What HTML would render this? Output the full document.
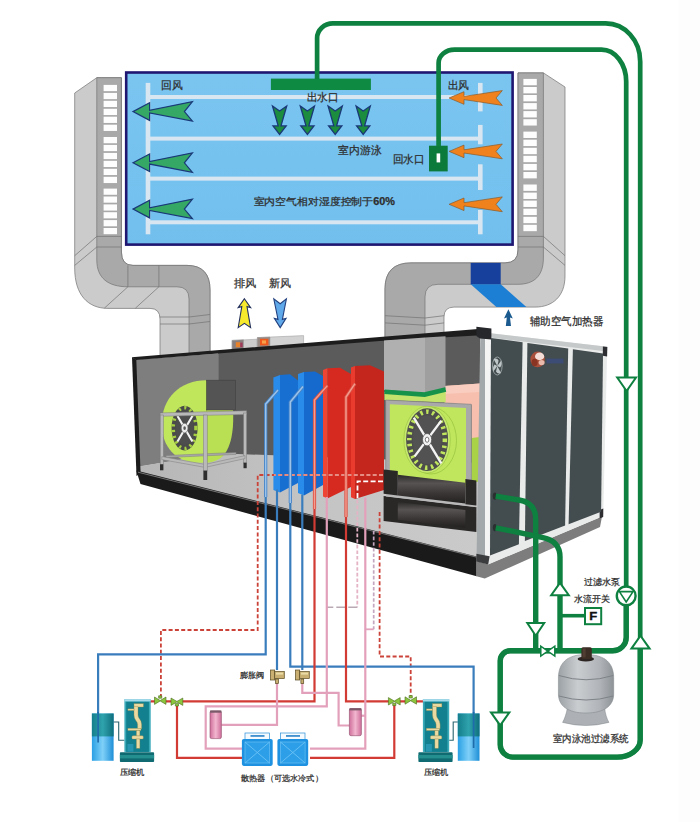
<!DOCTYPE html>
<html lang="zh">
<head>
<meta charset="utf-8">
<title>室内泳池除湿热泵系统</title>
<style>
html,body{margin:0;padding:0;background:#fff;}
body{width:700px;height:822px;overflow:hidden;font-family:"Liberation Sans",sans-serif;}
svg{display:block;}
text{font-family:"Liberation Sans",sans-serif;fill:#2e2e2e;stroke:#2e2e2e;stroke-width:0.25px;}
</style>
</head>
<body>
<svg width="700" height="822" viewBox="0 0 700 822">
<defs>
  <linearGradient id="poolg" x1="0" y1="0" x2="0" y2="1">
    <stop offset="0" stop-color="#7ac5f0"/>
    <stop offset="0.5" stop-color="#76c2ef"/>
    <stop offset="1" stop-color="#72bfee"/>
  </linearGradient>
  <linearGradient id="tankg" x1="0" y1="0" x2="1" y2="0">
    <stop offset="0" stop-color="#9da2a6"/>
    <stop offset="0.35" stop-color="#c9cdd0"/>
    <stop offset="0.75" stop-color="#b0b4b8"/>
    <stop offset="1" stop-color="#8e9398"/>
  </linearGradient>
  <linearGradient id="cylg" x1="0" y1="0" x2="0" y2="1">
    <stop offset="0" stop-color="#2c2929"/>
    <stop offset="0.3" stop-color="#575353"/>
    <stop offset="0.65" stop-color="#3a3636"/>
    <stop offset="1" stop-color="#232020"/>
  </linearGradient>
  <linearGradient id="pinkg" x1="0" y1="0" x2="1" y2="0">
    <stop offset="0" stop-color="#d0709c"/>
    <stop offset="0.5" stop-color="#f2b6cf"/>
    <stop offset="1" stop-color="#cf6f9b"/>
  </linearGradient>
  <linearGradient id="tkg" x1="0" y1="0" x2="1" y2="0">
    <stop offset="0" stop-color="#2aa0e4"/>
    <stop offset="0.5" stop-color="#7fd0f8"/>
    <stop offset="1" stop-color="#1e8fd6"/>
  </linearGradient>
  <linearGradient id="tkg2" x1="0" y1="0" x2="1" y2="0">
    <stop offset="0" stop-color="#147f8c"/>
    <stop offset="0.5" stop-color="#2fa3ad"/>
    <stop offset="1" stop-color="#0f6f7c"/>
  </linearGradient>
  <linearGradient id="floorg" x1="0" y1="0" x2="1" y2="0">
    <stop offset="0" stop-color="#b6b6b6"/>
    <stop offset="0.5" stop-color="#c4c4c4"/>
    <stop offset="1" stop-color="#cacaca"/>
  </linearGradient>
</defs>

<rect x="0" y="0" width="700" height="822" fill="#ffffff"/>
<rect x="678.6" y="0" width="21.4" height="822" fill="#fdfdfd"/>

<!-- ============ UNIT INTERIOR (walls) ============ -->
<g id="unitInterior">
  <!-- back wall -->
  <path d="M218 352 L480 331 L480 480 L218 456 Z" fill="#5b5b5b"/>
  <!-- left wall -->
  <path d="M135.5 359.5 L218.6 353.5 L218.6 453.5 L138.5 466.8 Z" fill="#7e7e7e"/>
  <!-- floor -->
  <path d="M138.3 466.5 L218.6 453.3 L480 463 L480 558.3 L138.5 472.6 Z" fill="url(#floorg)"/>
</g>

<!-- ============ LEFT DUCT ============ -->
<g id="ductL" stroke="#727272" stroke-width="0.7" stroke-linejoin="round">
  <path d="M96.8 77.7 L74.7 93 L74.7 268 C74.7 295 88 308.4 108 308.4 L150 308.4 Q160 308.4 160 319 L160 356 L210 352 L210 290 Q210 265.4 187 265.4 L133 265.4 Q121.4 265.4 121.4 252 L121.4 77.7 Z" fill="#cbcbcb"/>
  <path d="M96.8 77.7 L121.4 77.7 L121.4 252 Q121.4 265.4 133 265.4 L187 265.4 Q210 265.4 210 290 L210 352 L189 353.7 L189 299 Q189 286.8 177 286.8 L128 286.8 C108 286.8 96.8 278 96.8 260 Z" fill="#a9a9a9"/>
  <!-- seams -->
  <path d="M74.7 255.7 L96.8 236.4 L121.4 236.4 M74.7 265.4 L96.8 247 L121.4 247" fill="none"/>
  <path d="M127.9 265.4 L127.9 286.8 L104.3 308.2 M158.9 265.4 L158.9 286.8 L135.4 308.2" fill="none"/>
  <path d="M160 317 L189 317 L210 314.5 M160 324 L189 324 L210 321.5" fill="none"/>
</g>
<g id="grillL" fill="#fdfdfd">
  <rect x="103.6" y="84.9" width="13.4" height="6.25"/>
  <rect x="103.6" y="92.9" width="13.4" height="6.25"/>
  <rect x="103.6" y="100.8" width="13.4" height="6.25"/>
  <rect x="103.6" y="108.8" width="13.4" height="6.25"/>
  <rect x="103.6" y="116.7" width="13.4" height="6.25"/>
  <rect x="103.6" y="124.7" width="13.4" height="6.25"/>
  <rect x="103.6" y="137.0" width="13.4" height="6.25"/>
  <rect x="103.6" y="144.9" width="13.4" height="6.25"/>
  <rect x="103.6" y="152.9" width="13.4" height="6.25"/>
  <rect x="103.6" y="160.8" width="13.4" height="6.25"/>
  <rect x="103.6" y="168.8" width="13.4" height="6.25"/>
  <rect x="103.6" y="176.8" width="13.4" height="6.25"/>
  <rect x="103.6" y="188.6" width="13.4" height="6.18"/>
  <rect x="103.6" y="196.5" width="13.4" height="6.18"/>
  <rect x="103.6" y="204.4" width="13.4" height="6.18"/>
  <rect x="103.6" y="212.2" width="13.4" height="6.18"/>
  <rect x="103.6" y="220.1" width="13.4" height="6.18"/>
  <rect x="103.6" y="228.0" width="13.4" height="6.18"/>
</g>

<!-- ============ RIGHT DUCT ============ -->
<g id="ductR" stroke="#727272" stroke-width="0.7" stroke-linejoin="round">
  <path d="M518 72.9 L518 250 Q518 262.9 505 262.9 L411 262.9 Q385 262.9 385 289 L385 390 L444 390 L444 317 Q444 307.1 454 307.1 L535 307.1 C553 307.1 565 296 565 276 L565 87 L543.4 72.9 Z" fill="#cbcbcb"/>
  <path d="M518 72.9 L543.4 72.9 L543.4 258 C543.4 276 534 284.3 518 284.3 L438 284.3 Q425 284.3 425 297 L425 391 L385 388 L385 289 Q385 262.9 411 262.9 L505 262.9 Q518 262.9 518 250 Z" fill="#a9a9a9"/>
  <path d="M518 236.4 L543.4 236.4 L565 255.7 M518 247 L543.4 247 L565 265.4" fill="none"/>
  <path d="M385 315.7 L425 318 L444 315.7 M385 322.9 L425 325.2 L444 322.9" fill="none"/>
</g>
<g id="grillR" fill="#fdfdfd">
  <rect x="523.4" y="78.9" width="13.4" height="6.35"/>
  <rect x="523.4" y="87.0" width="13.4" height="6.35"/>
  <rect x="523.4" y="95.0" width="13.4" height="6.35"/>
  <rect x="523.4" y="103.1" width="13.4" height="6.35"/>
  <rect x="523.4" y="111.1" width="13.4" height="6.35"/>
  <rect x="523.4" y="119.2" width="13.4" height="6.35"/>
  <rect x="523.4" y="131.6" width="13.4" height="6.38"/>
  <rect x="523.4" y="139.7" width="13.4" height="6.38"/>
  <rect x="523.4" y="147.8" width="13.4" height="6.38"/>
  <rect x="523.4" y="155.8" width="13.4" height="6.38"/>
  <rect x="523.4" y="163.9" width="13.4" height="6.38"/>
  <rect x="523.4" y="172.0" width="13.4" height="6.38"/>
  <rect x="523.4" y="184.5" width="13.4" height="6.37"/>
  <rect x="523.4" y="192.6" width="13.4" height="6.37"/>
  <rect x="523.4" y="200.6" width="13.4" height="6.37"/>
  <rect x="523.4" y="208.7" width="13.4" height="6.37"/>
  <rect x="523.4" y="216.8" width="13.4" height="6.37"/>
  <rect x="523.4" y="224.8" width="13.4" height="6.37"/>
</g>
<!-- aux heater -->
<rect x="470.7" y="262.9" width="30" height="21.6" fill="#173f9c"/>
<path d="M470.7 284.3 L500.7 284.3 L526.4 307.1 L496.4 307.1 Z" fill="#1d7fd3"/>
<path d="M508.4 309.2 L512.8 318.4 L510 317.4 L511 326 L505.8 326 L506.8 317.4 L504 318.4 Z" fill="#1b5a8f"/>

<!-- ============ POOL ============ -->
<g id="pool">
  <rect x="126.2" y="72.5" width="386.4" height="172.1" fill="url(#poolg)" stroke="#1e1670" stroke-width="2.6"/>
  <g fill="#d7e6f1">
    <rect x="148" y="95" width="334" height="4"/>
    <rect x="148" y="136.6" width="334" height="4"/>
    <rect x="148" y="176.6" width="334" height="4"/>
    <rect x="148" y="220.3" width="334" height="4"/>
    <rect x="145.7" y="82.9" width="4.6" height="151.4"/>
    <rect x="478" y="82.9" width="4.6" height="28.5"/>
    <rect x="478" y="124.9" width="4.6" height="19.4"/>
    <rect x="478" y="164.3" width="4.6" height="25.7"/>
    <rect x="478" y="210" width="4.6" height="24.3"/>
  </g>
</g>
<!-- outlet bar -->
<rect x="270.9" y="78.6" width="100" height="11.4" fill="#0e8a43"/>
<!-- return inlet -->
<rect x="429" y="145.7" width="18.7" height="25.7" fill="#0b7a3b"/>
<rect x="436.6" y="153.4" width="3.6" height="9" fill="#fff"/>

<!-- green down arrows -->
<g fill="#1c8c3e" stroke="#1a3878" stroke-width="1.3" stroke-linejoin="miter">
  <path id="dn" d="M272.5 106 L279.6 111 L286.7 106 L281 125.9 L286.2 125.9 L279.6 134.4 L273 125.9 L278.2 125.9 Z"/>
  <use href="#dn" x="27.8"/>
  <use href="#dn" x="55.6"/>
  <use href="#dn" x="83.6"/>
</g>
<!-- green left arrows -->
<g fill="#35a865" stroke="#1a3878" stroke-width="1.2" stroke-linejoin="miter">
  <path id="la" d="M133 111.6 L149.6 102.8 L149.6 110.3 L192.4 101.6 L184.4 111.6 L192.4 121.1 L149.6 112.9 L149.6 120.4 Z"/>
  <use href="#la" y="51.2"/>
  <use href="#la" y="97.5"/>
</g>
<!-- orange arrows -->
<g fill="#f0821e" stroke="#8a5a2a" stroke-width="0.7" stroke-linejoin="miter">
  <path id="oa" d="M449.1 98 L464 91.7 L464 96.4 L502.3 90.6 L496 98 L502.3 105.4 L464 99.6 L464 104.3 Z"/>
  <use href="#oa" y="53.4"/>
  <use href="#oa" y="106.3"/>
</g>

<!-- pool texts -->
<g font-size="10.5">
  <text x="161.2" y="89" font-size="10.8" textLength="21.6" lengthAdjust="spacingAndGlyphs">回风</text>
  <text x="306.8" y="101" font-size="10.6" textLength="32" lengthAdjust="spacingAndGlyphs">出水口</text>
  <text x="447.5" y="89" font-size="10.8" textLength="21.6" lengthAdjust="spacingAndGlyphs">出风</text>
  <text x="338.4" y="153.5" font-size="10.8" textLength="43.2" lengthAdjust="spacingAndGlyphs">室内游泳</text>
  <text x="392.7" y="162.6" font-size="10.6" textLength="32" lengthAdjust="spacingAndGlyphs">回水口</text>
  <text x="253.5" y="205.2" font-size="10" textLength="141.5" lengthAdjust="spacingAndGlyphs">室内空气相对湿度控制于<tspan font-weight="bold">60%</tspan></text>
</g>

<!-- ============ UNIT CONTENTS ============ -->
<g id="unit">
  <!-- top boxes (dampers) -->
  <g stroke="#9a9a9a" stroke-width="0.5">
    <path d="M232.1 340.4 L257.1 339.2 L257.1 349.4 L232.1 351.4 Z" fill="#cdcdcd"/>
    <path d="M232.1 340.4 L243.5 339.8 L243.5 350.4 L232.1 351.4 Z" fill="#8a7f7f"/>
    <path d="M257.4 337.6 L303.6 335.6 L303.6 345.4 L257.4 349 Z" fill="#d2d2d2"/>
    <path d="M257.4 337.6 L270 337 L270 348 L257.4 349 Z" fill="#9a8a84"/>
  </g>
  <rect x="235.8" y="342.2" width="4.4" height="5" fill="#e8822a"/>
  <rect x="240.2" y="342.6" width="2.4" height="4.6" fill="#a03a5a"/>
  <rect x="260" y="338.8" width="8.4" height="6.6" fill="#ee5a1e"/>
  <rect x="262" y="340.4" width="4" height="3.2" fill="#f6a04a"/>
  <!-- top band -->
  <path d="M131.8 357.2 L481 328.7 L481 335.3 L380 340.9 L136 359.9 Z" fill="#1d1d1d"/>
  <!-- left edge -->
  <path d="M132 357.2 L136.3 359.8 L140.6 473 L136.5 476 Z" fill="#1b1b1b"/>

  <!-- ===== left fan ===== -->
  <path d="M207 380.2 C 180 380, 161.8 398, 161.8 424 C 161.8 447, 176 462.7, 199 462.7 L 207 462.7 Z" fill="#c0e65c"/>
  <path d="M206.6 409 L233 409 C 234 428, 232 450, 220 458.5 C 215 461.5 210 462.5 206.6 462.7 Z" fill="#b9e053"/>
  <path d="M206.6 380.2 L206.6 462.7" stroke="#9cc43a" stroke-width="0.6"/>
  <rect x="206.6" y="380.2" width="29" height="29.8" fill="#555454" stroke="#414141" stroke-width="0.6"/>
  <ellipse cx="184.6" cy="428.1" rx="13" ry="22.4" fill="#4a4a4a"/>
  <ellipse cx="184.6" cy="428.1" rx="11.3" ry="20.4" fill="none" stroke="#a6cf42" stroke-width="3.4" stroke-dasharray="2.2 3.6"/>
  <ellipse cx="184.6" cy="428.1" rx="9" ry="16.6" fill="#4d4d4d"/>
  <path d="M177.5 416 L192.4 441.5 M192.4 416 L177.5 441.5" stroke="#f2f2f2" stroke-width="2.1" fill="none"/>
  <ellipse cx="184.6" cy="428.1" rx="3.4" ry="4.8" fill="#ececec" stroke="#666" stroke-width="0.7"/>
  <ellipse cx="184.6" cy="428.1" rx="1.3" ry="1.9" fill="#5a5a5a"/>
  <!-- frame -->
  <g fill="#b9b9b9" stroke="#7c7c7c" stroke-width="0.5">
    <path d="M166 455.6 L236 452.4 L236 454.4 L166 457.6 Z" fill="#a9a9a9"/>
    <path d="M160.2 412.9 L246.6 410.8 L246.6 414.4 L160.2 416.3 Z"/>
    <rect x="160.2" y="415" width="3.2" height="49.5"/>
    <rect x="243.6" y="413" width="3" height="50"/>
    <path d="M161.8 456.6 L205 464.4 L205 467.4 L161.8 459.6 Z"/>
    <path d="M205 464.4 L245 455.6 L245 458.6 L205 467.4 Z"/>
    <rect x="203.4" y="415" width="3.8" height="56"/>
  </g>
  <g fill="#2e2e2e">
    <rect x="160" y="464.3" width="3.4" height="6"/>
    <rect x="203.4" y="470.6" width="3.8" height="9.4"/>
    <rect x="243.5" y="462.7" width="3.2" height="5.5"/>
  </g>

  <!-- ===== coil panels ===== -->
  <g>
    <path d="M280 375 L290 374.3 L298 380.5 L298 483 L280 492.5 Z" fill="#186fd2"/>
    <path d="M273.4 377.5 L280 375 L280 492.5 L273.4 490 Z" fill="#2a8cea"/>
    <path d="M304 372 L315 371.5 L323 376 L323 485 L304 495.5 Z" fill="#1669cd"/>
    <path d="M298 374 L304 372 L304 495.5 L298 493 Z" fill="#2a8cea"/>
    <path d="M327.4 368.3 L340 367.8 L351 374 L351 487 L327.4 498.5 Z" fill="#d62a20"/>
    <path d="M323 370 L327.4 368.3 L327.4 498.5 L323 496.5 Z" fill="#ee4434"/>
    <path d="M355 366 L370 365.3 L384 371.5 L384 490 L355 499 Z" fill="#c4261e"/>
    <path d="M351 367.5 L355 366 L355 499 L351 497.3 Z" fill="#ea3c2e"/>
  </g>
  <!-- ===== right (supply) fan ===== -->
  <g id="fanR">
    <!-- pink box -->
    <path d="M444.5 386 L480 383.5 L480 438 L471.4 438 L471.4 405 L444.5 403 Z" fill="#f7bfae"/>
    <path d="M444.5 386 L480 383.5 L480 392 L444.5 394 Z" fill="#f9cdbf"/>
    <!-- light green flexible connector -->
    <path d="M384.5 392 L424.6 395 L445.7 390 L445.7 402.5 L384.5 400 Z" fill="#c3e36c"/>
    <path d="M425 337.5 L445.5 336.2 L445.5 389 L425 393 Z" fill="#9f9f9f"/>
    <path d="M384 340.5 L425 337.5 L425 393 L384 390 Z" fill="#b0b0b0"/>
    <path d="M384.5 391.8 L424.6 394.6 L445.7 389.6" fill="none" stroke="#16924a" stroke-width="4.6"/>
    <!-- side of housing behind post -->
    <path d="M471.4 438 L480 437 L480 482 L471.4 481.4 Z" fill="#a9d246"/>
    <!-- frame -->
    <path d="M385.7 400 L471.4 404.3 L471.4 481.4 L385.7 470 Z" fill="#a9a9a9" stroke="#7f7f7f" stroke-width="0.6"/>
    <path d="M389.8 404.2 L466 408 L466 487 L389.8 476 Z" fill="#c0e65e"/>
    <!-- wheel -->
    <ellipse cx="431" cy="440.5" rx="25.5" ry="33.5" fill="none" stroke="#9cc640" stroke-width="0.8"/>
    <ellipse cx="427.1" cy="439.7" rx="23.2" ry="33.4" fill="#c6e870" stroke="#9cc640" stroke-width="0.7"/>
    <ellipse cx="427.1" cy="439.7" rx="21" ry="31.4" fill="#4d4d4d"/>
    <ellipse cx="427.1" cy="439.7" rx="17.8" ry="28" fill="none" stroke="#c0e65e" stroke-width="4.6" stroke-dasharray="2.4 3.6"/>
    <ellipse cx="427.1" cy="439.7" rx="14.2" ry="24.4" fill="#525252"/>
    <path d="M413.8 417.7 L441.3 463.3 M441.3 420.6 L414.6 456.4" stroke="#f4f4f4" stroke-width="2.4" fill="none"/>
    <ellipse cx="427.1" cy="439.7" rx="4.6" ry="6.2" fill="#f2f2f2" stroke="#555" stroke-width="0.8"/>
    <ellipse cx="427.1" cy="439.7" rx="1.8" ry="2.6" fill="#fff" stroke="#444" stroke-width="0.7"/>
  </g>

  <!-- ===== black cylinders ===== -->
  <g id="cyl">
    <path d="M383.6 496.1 L476.4 507.1 L476.4 532.0 L383.6 521.0 Z" fill="#2a2727"/>
    <path d="M386 493.9 L476.4 504.6 L476.4 507.3 L386 496.6 Z" fill="#b9b9b9"/>
    <path d="M397.8 474.7 L465.4 482.7 L465.4 503.5 L397.8 495.5 Z" fill="url(#cylg)"/>
    <path d="M383.6 469.4 L397.8 471.1 L397.8 495.5 L383.6 493.8 Z" fill="#2a2727"/>
    <path d="M465.4 479.1 L476.4 480.4 L476.4 505.6 L465.4 504.3 Z" fill="#2a2727"/>
    <path d="M397.8 502.0 L465.4 510.0 L465.4 527.8 L397.8 519.8 Z" fill="url(#cylg)"/>
  </g>

  <!-- base band -->
  <path d="M136.3 470.5 L476.6 556.6 L476.6 576.3 L140.5 484 Z" fill="#1a1a1a"/>
  <path d="M138 472.2 L480 558" stroke="#8d8d8d" stroke-width="0.8" fill="none"/>

  <!-- ===== right side face ===== -->
  <g id="sideface">
    <!-- base under side -->
    <path d="M476.4 561 L488.2 564.3 L602 516.4 L600 527 L484.8 578.6 L476.4 576.2 Z" fill="#7d7d7d"/>
    <!-- outer frame (white) -->
    <path d="M484.6 332.5 L607.3 346.8 L603.2 516 L488.2 564.5 L484.6 563 Z" fill="#e9eaea"/>
    <path d="M490.6 333.2 L607.3 346.8 L607 351.5 L490.6 337.6 Z" fill="#c5c9c9"/>
    <!-- corner post -->
    <path d="M480.3 334 L485 334 L485 556 L476.6 554.5 Z" fill="#a3a8aa"/>
    <path d="M485 334 L490.6 335 L489.6 557 L485 556 Z" fill="#f4f4f4"/>
    <path d="M476.4 553.8 L489.6 556.2 L488.2 564.5 L476.4 561.6 Z" fill="#3a3c3e"/>
    <path d="M476.4 326.8 L491.4 328.4 L491.4 339.6 L480 338.4 L476.4 336 Z" fill="#26272b"/>
    <path d="M602.9 346.4 L607.3 346.9 L607.1 356.5 L602.8 355.8 Z" fill="#2c2e32"/>
    <path d="M599.6 510 L603.3 508.6 L603.2 517 L599.6 518.4 Z" fill="#2c2e32"/>
    <!-- panels -->
    <path d="M491 338 L522.6 342.3 L518.9 544.3 L490 555.4 Z" fill="#434c4e"/>
    <path d="M527.4 343 L568.2 348.4 L565.1 525.4 L524.9 540.9 Z" fill="#434c4e"/>
    <path d="M572.9 349.2 L603 353.5 L601.1 511.7 L568.6 524.2 Z" fill="#434c4e"/>
    <!-- fan emblem -->
    <ellipse cx="497.3" cy="366" rx="4.8" ry="9" fill="none" stroke="#9ea6a7" stroke-width="0.9"/>
    <path d="M497.3 366 L493.6 359 Q497 357.5 498.6 360.5 Z M497.3 366 L501.2 360.5 Q502.4 365 500 367.5 Z M497.3 366 L501 373 Q497.6 374.6 496 371.4 Z M497.3 366 L493.4 371.6 Q492.2 367 494.6 364.4 Z" fill="#bfc6c7"/>
    <!-- logo -->
    <ellipse cx="537.6" cy="359.4" rx="7.2" ry="7.8" fill="#a8503c"/>
    <ellipse cx="539.6" cy="356.4" rx="4.6" ry="3.8" fill="#f4ddd6"/>
    <ellipse cx="541.6" cy="362.6" rx="3" ry="2.6" fill="#e9b9ab"/>
    <ellipse cx="534.6" cy="362.4" rx="3" ry="3.6" fill="#8a3424"/>
    <rect x="546.5" y="358.5" width="17" height="5" fill="#3a4c8e" opacity="0.6"/>
    <!-- pipe stubs -->
    <ellipse cx="494.8" cy="496.2" rx="2" ry="3.6" fill="#2a2f30"/>
    <ellipse cx="494.8" cy="527.6" rx="2" ry="3.6" fill="#2a2f30"/>
  </g>
</g>


<!-- ============ REFRIGERANT PIPES ============ -->
<g id="refpipes" fill="none" stroke-linejoin="miter">
  <!-- dashed (hot gas) lines -->
  <g stroke="#cb4238" stroke-width="1.8" stroke-dasharray="4 2.3">
    <path d="M383 475 L257.7 475 L257.7 630 L160.9 630 L160.9 697"/>
    <path d="M379.6 512 L379.6 656.5 L410.7 656.5 L410.7 697"/>
  </g>
  <path d="M383 475 L274 475" stroke="#eea59c" stroke-width="1.6" stroke-dasharray="4 2.3"/>
  <path d="M383 481.4 L357.5 481.4 L357.5 500" stroke="#ffffff" stroke-width="1.8" stroke-dasharray="5 2.4"/>
  <path d="M357.3 500 L357.3 607.3" stroke="#e5b3c6" stroke-width="1.8" stroke-dasharray="3.6 2"/>
  <path d="M357.3 607.3 L327 607.3" stroke="#b9a9b3" stroke-width="1.6" stroke-dasharray="9 3"/>
  <path d="M373.7 531 L373.7 629.3" stroke="#c4a6c0" stroke-width="1.7" stroke-dasharray="3.6 2"/>
  <path d="M373.7 629.3 L365.3 629.3" stroke="#e3a3bd" stroke-width="1.8"/>

  <!-- blue pipes -->
  <g stroke="#3a7dbd" stroke-width="2.2">
    <path d="M277.5 390.5 L265.7 404 L265.7 654.3 L98.1 654.3 L98.1 741"/>
    <path d="M277 489.5 L277 670"/>
    <path d="M302.8 387 L290.3 402 L290.3 666.6 L473.6 666.6 L473.6 748"/>
    <path d="M302.3 494.5 L302.3 670"/>
  </g>
  <g stroke="#4a86c8" stroke-width="3.2">
    <path d="M278 390 L265.7 404 L265.7 497"/>
    <path d="M303 386.5 L290.3 402 L290.3 503"/>
  </g>
  <g stroke="#9cc3ea" stroke-width="1.4">
    <path d="M278 390 L265.7 404 L265.7 497"/>
    <path d="M303 386.5 L290.3 402 L290.3 503"/>
  </g>
  <!-- red pipes -->
  <g stroke="#d23a34" stroke-width="2.2">
    <path d="M327 386 L314.5 400 L314.5 701.3 L182 701.3"/>
    <path d="M355 384 L346 397 L346 701.3 L389 701.3"/>
    <path d="M400 701.3 L405.5 701.3 M416 701.3 L423 701.3"/>
    <path d="M149.5 701.3 L155.5 701.3 M166 701.3 L172 701.3"/>
    <path d="M177 704.5 L177 757.8 L242 757.8"/>
    <path d="M394.3 704.5 L394.3 757.8 L310 757.8"/>
  </g>
  <g stroke="#dc5244" stroke-width="3.2">
    <path d="M327.4 385.6 L314.5 400 L314.5 509"/>
    <path d="M355 383.6 L346 397 L346 517"/>
  </g>
  <g stroke="#f39d90" stroke-width="1.4">
    <path d="M327.4 385.6 L314.5 400 L314.5 509"/>
    <path d="M355 383.6 L346 397 L346 517"/>
  </g>
  <!-- pink pipes -->
  <g stroke="#e3a0ba" stroke-width="2.2">
    <path d="M326.8 497 L326.8 706.3 L205.7 706.3 L205.7 748.6 L242 748.6"/>
    <path d="M365.3 497.5 L365.3 748.6 L310 748.6"/>
    <path d="M277 680 L277 724.9 L221.4 724.9"/>
    <path d="M302.3 680 L302.3 692.9 L338.6 692.9 L338.6 725.5 L349.4 725.5"/>
    <path d="M361.4 715.7 L365.3 715.7"/>
  </g>
</g>

<!-- expansion valves -->
<g id="expv">
  <g fill="#c9b072" stroke="#5a4a22" stroke-width="0.7">
    <rect x="270.5" y="670" width="4.2" height="10"/>
    <rect x="274.7" y="671.5" width="9.6" height="7"/>
    <rect x="275.6" y="679" width="2.8" height="4.5"/>
    <rect x="295.5" y="670" width="4.2" height="10"/>
    <rect x="299.7" y="671.5" width="9.6" height="7"/>
    <rect x="300.9" y="679" width="2.8" height="4.5"/>
  </g>
  <rect x="276" y="672.6" width="7" height="2" fill="#eadba6"/>
  <rect x="301" y="672.6" width="7" height="2" fill="#eadba6"/>
</g>

<!-- valves green -->
<g id="gvalves" fill="#8cc63e" stroke="#4a6a1e" stroke-width="0.6">
  <path id="gv" d="M154.5 697 L160.2 700.5 L166 697 L166 704.4 L160.2 701 L154.5 704.4 Z M158.6 695.8 h3.2 v2.4 h-3.2 Z"/>
  <path id="gv2" d="M171 698 L176.9 701.4 L182.8 698 L182.8 705.4 L176.9 702 L171 705.4 Z M175.3 703.6 h3.2 v2.4 h-3.2 Z"/>
  <use href="#gv2" x="217.4" y="-0.4"/>
  <use href="#gv" x="250.5" y="-0.2"/>
</g>

<!-- receivers (pink cylinders) -->
<g>
  <rect x="210" y="710.9" width="11.4" height="27.7" rx="1.6" fill="url(#pinkg)" stroke="#8f4a6a" stroke-width="0.6"/>
  <rect x="210" y="710.5" width="11.4" height="2.2" fill="#7a5a68"/>
  <rect x="349.4" y="708.6" width="12" height="27.1" rx="1.6" fill="url(#pinkg)" stroke="#8f4a6a" stroke-width="0.6"/>
  <rect x="349.4" y="708.2" width="12" height="2.2" fill="#7a5a68"/>
</g>

<!-- radiators -->
<g id="rads">
  <g id="rad">
    <rect x="245" y="733" width="24.5" height="7" fill="#f4fafe" stroke="#2a8fd8" stroke-width="0.7"/>
    <rect x="250.5" y="735.2" width="14" height="1.5" fill="#1a78c4"/>
    <rect x="241.9" y="739" width="30.8" height="26.9" rx="1.8" fill="#1e92e0"/>
    <rect x="245" y="742" width="24.6" height="21" fill="#2c9fe8" stroke="#62bbf2" stroke-width="0.8"/>
    <path d="M245 742 L269.6 763 M269.6 742 L245 763" stroke="#6cc2f5" stroke-width="0.9"/>
  </g>
  <use href="#rad" x="35.5"/>
</g>

<!-- compressors -->
<g id="compL">
  <rect x="91.9" y="713.5" width="21.7" height="47.3" fill="url(#tkg)"/>
  <rect x="91.9" y="713.5" width="21.7" height="22.9" fill="url(#tkg2)"/>
  <path d="M113.6 722 L118.7 722 L118.7 740.3 L124.4 740.3" fill="none" stroke="#2a6470" stroke-width="1.1"/>
  <rect x="124.4" y="699.1" width="26.3" height="52.8" fill="#3aa9b8"/>
  <rect x="126.2" y="701.6" width="22.7" height="50.3" fill="#12808e"/>
  <rect x="127.4" y="744" width="6" height="7.6" fill="#2f9fc0" opacity="0.7"/>
  <rect x="124.4" y="699.1" width="26.3" height="2.3" fill="#a6dbea"/>
  <g fill="#ead9a0" stroke="#9a8a4a" stroke-width="0.35">
    <rect x="134.0" y="703.7" width="9.4" height="3.3"/>
    <path d="M134.0 706.5 h4 v8.5 q0 2.2 1.6 4 q2 2.2 2 5.2 v4.6 h-4 v-4.2 q0 -2 -1.6 -3.8 q-2 -2.2 -2 -5.8 Z"/>
    <rect x="127.9" y="708.9" width="6.1" height="1.6"/>
    <rect x="127.9" y="728.3" width="13.1" height="2.2"/>
    <rect x="131.9" y="735.7" width="11.4" height="3.4" rx="1.2"/>
    <rect x="136.4" y="730.5" width="3.5" height="5.4"/>
    <rect x="136.4" y="739" width="3.5" height="9.3"/>
  </g>
  <rect x="119.9" y="752.3" width="34.2" height="9.7" rx="0.8" fill="#0f6b71"/>
  <rect x="119.9" y="755" width="34.2" height="3.4" fill="#23908f"/>
</g>
<g id="compR">
  <rect x="457.8" y="713.5" width="21.7" height="47.3" fill="url(#tkg)"/>
  <rect x="457.8" y="713.5" width="21.7" height="22.9" fill="url(#tkg2)"/>
  <path d="M457.8 722 L453.2 722 L453.2 740.3 L449.2 740.3" fill="none" stroke="#2a6470" stroke-width="1.1"/>
  <rect x="422.9" y="699.1" width="26.3" height="52.8" fill="#3aa9b8"/>
  <rect x="424.7" y="701.6" width="22.7" height="50.3" fill="#12808e"/>
  <rect x="425.9" y="744" width="6" height="7.6" fill="#2f9fc0" opacity="0.7"/>
  <rect x="422.9" y="699.1" width="26.3" height="2.3" fill="#a6dbea"/>
  <g fill="#ead9a0" stroke="#9a8a4a" stroke-width="0.35">
    <rect x="432.5" y="703.7" width="9.4" height="3.3"/>
    <path d="M432.5 706.5 h4 v8.5 q0 2.2 1.6 4 q2 2.2 2 5.2 v4.6 h-4 v-4.2 q0 -2 -1.6 -3.8 q-2 -2.2 -2 -5.8 Z"/>
    <rect x="426.4" y="708.9" width="6.1" height="1.6"/>
    <rect x="426.4" y="728.3" width="13.1" height="2.2"/>
    <rect x="430.4" y="735.7" width="11.4" height="3.4" rx="1.2"/>
    <rect x="434.9" y="730.5" width="3.5" height="5.4"/>
    <rect x="434.9" y="739" width="3.5" height="9.3"/>
  </g>
  <rect x="418.4" y="752.3" width="34.2" height="9.7" rx="0.8" fill="#0f6b71"/>
  <rect x="418.4" y="755" width="34.2" height="3.4" fill="#23908f"/>
</g>
<!-- blue dip pipes over tanks -->
<g stroke="#1f6cab" stroke-width="1.7" fill="none">
  <path d="M98.1 712 L98.1 742.6"/>
  <path d="M473.6 712 L473.6 748"/>
</g>

<!-- bottom labels -->
<g font-size="8.4" fill="#333">
  <text x="119.8" y="774.5" font-size="8.2" textLength="24.6" lengthAdjust="spacingAndGlyphs">压缩机</text>
  <text x="423.8" y="774.6" font-size="8.2" textLength="24.4" lengthAdjust="spacingAndGlyphs">压缩机</text>
  <text x="239.6" y="678.4" font-size="8.2" textLength="24.6" lengthAdjust="spacingAndGlyphs">膨胀阀</text>
  <text x="241.2" y="781" font-size="8.2" textLength="81.5" lengthAdjust="spacingAndGlyphs">散热器（可选水冷式）</text>
</g>

<!-- ============ GREEN POOL WATER PIPES (upper) ============ -->
<g fill="none" stroke="#0e8040" stroke-width="4.7" stroke-linecap="butt">
  <path d="M317.1 79 L317.1 38 A15.8 14.6 0 0 1 332.9 23.4 L605.8 23.4 A34.4 38 0 0 1 640.2 61.4 L640.2 740 A23 17.1 0 0 1 617.2 757.1 L512.7 757.1 A12.5 12.5 0 0 1 500.2 744.6 L500.2 660.8 A10 10 0 0 1 510.2 650.8 L612.9 650.8 A13.3 13.3 0 0 0 626.2 637.5 L626.2 81.6 A24.7 32 0 0 0 601.5 49.6 L454.6 49.6 A16 13.4 0 0 0 438.6 63 L438.6 146"/>
  <path d="M640.2 642 L640.2 740 A23 17.1 0 0 1 617.2 757.1 L512.7 757.1 A12.5 12.5 0 0 1 500.2 744.6 L500.2 660.8 A10 10 0 0 1 510.2 650.8 L612.9 650.8 A13.3 13.3 0 0 0 626.2 637.5 L626.2 596" stroke-width="5.4"/>
</g>


<!-- pipes from unit to loop -->
<g fill="none" stroke="#0e8040" stroke-width="5.4">
  <path d="M495.7 496.2 L519 500 Q535.7 502.6 535.7 519 L535.7 650.8"/>
  <path d="M495.7 527.8 L543 537.6 Q560 541 560 557 L560 650.8"/>
  <path d="M560 615.7 L585 615.7" stroke-width="3.6"/>
</g>
<!-- F box -->
<rect x="585" y="608" width="16.2" height="16.2" fill="#fff" stroke="#0e8040" stroke-width="2"/>
<text x="589.2" y="620" font-size="10.4" font-weight="bold" textLength="8" lengthAdjust="spacingAndGlyphs" style="fill:#111;stroke:#111;stroke-width:0.3px">F</text>
<!-- tank -->
<g id="tank">
  <path d="M567.5 707 C566.5 714 564.5 719 562.6 722.4 Q585.8 728.6 608.9 722.4 C607 719 605 714 604.6 707 Z" fill="#adb1b5" stroke="#7f8488" stroke-width="0.5"/>
  <path d="M586 654.5 C 566 654.5, 558.4 664, 558.4 678 L558.4 694 C 558.4 706, 568 713, 586 713 C 604 713, 613.7 706, 613.7 694 L613.7 678 C 613.7 664, 606 654.5, 586 654.5 Z" fill="url(#tankg)" stroke="#7f8488" stroke-width="0.5"/>
  <path d="M558.8 675.5 Q586 684 613.3 675.5 M558.8 696 Q586 704 613.3 696" fill="none" stroke="#7e8389" stroke-width="1"/>
  <ellipse cx="585.8" cy="659" rx="8.2" ry="2.6" fill="#2b2422"/>
  <rect x="581.4" y="647.2" width="10.4" height="11.8" rx="1.6" fill="#3b2c24"/>
  <rect x="582.6" y="648.4" width="3" height="9" fill="#5a463a" opacity="0.7"/>
</g>
<!-- flow arrows (triangles) -->
<g fill="#fff" stroke="#0e8040" stroke-width="2" stroke-linejoin="miter">
  <path d="M617.2 377.5 L636 377.5 L626.6 391 Z"/>
  <path d="M527.3 623 L544.2 623 L535.7 635.7 Z"/>
  <path d="M551.2 595.2 L568.8 595.2 L560 582.8 Z"/>
  <path d="M631.4 648.6 L649.6 648.6 L640.5 635.7 Z"/>
  <path d="M491 712.4 L509.4 712.4 L500.2 725.4 Z"/>
  <!-- pump -->
  <circle cx="626.2" cy="595.9" r="9.4" stroke-width="2.4"/>
  <path d="M619.4 591.6 L633 591.6 L626.2 602 Z" stroke-width="1.6"/>
  <!-- valve -->
  <path d="M540.8 646.2 L540.8 656 L554.8 646.2 L554.8 656 Z" stroke-width="1.5"/>
</g>
<g font-size="9" fill="#222">
  <text x="584.1" y="584.8" textLength="36" lengthAdjust="spacingAndGlyphs">过滤水泵</text>
  <text x="574.1" y="602.4" textLength="36" lengthAdjust="spacingAndGlyphs">水流开关</text>
  <text x="552.7" y="742.2" font-size="9.5" textLength="76" lengthAdjust="spacingAndGlyphs">室内泳池过滤系统</text>
  <text x="529.6" y="324.6" font-size="10.5" textLength="73.6" lengthAdjust="spacingAndGlyphs">辅助空气加热器</text>
</g>

<!-- exhaust / fresh air -->
<g font-size="11" style="fill:#3c3c3c;stroke:#3c3c3c;stroke-width:0.45px">
  <text x="233.8" y="287.2" font-size="11.2" textLength="22.4" lengthAdjust="spacingAndGlyphs">排风</text>
  <text x="269.4" y="287.2" font-size="11.2" textLength="22" lengthAdjust="spacingAndGlyphs">新风</text>
</g>
<path d="M244.4 298.8 L250.6 307.6 L247 306.6 L250.6 327.6 L244.4 323.4 L238.2 327.6 L241.8 306.6 L238.2 307.6 Z" fill="#f7ea2c" stroke="#23305e" stroke-width="1.1"/>
<path d="M280.2 327.6 L274.4 318.4 L278 319.4 L273.8 298.8 L280.2 303.8 L286.4 298.8 L282.4 319.4 L286 318.4 Z" fill="#5fa9ea" stroke="#23407e" stroke-width="1.1"/>

</svg>
</body>
</html>
